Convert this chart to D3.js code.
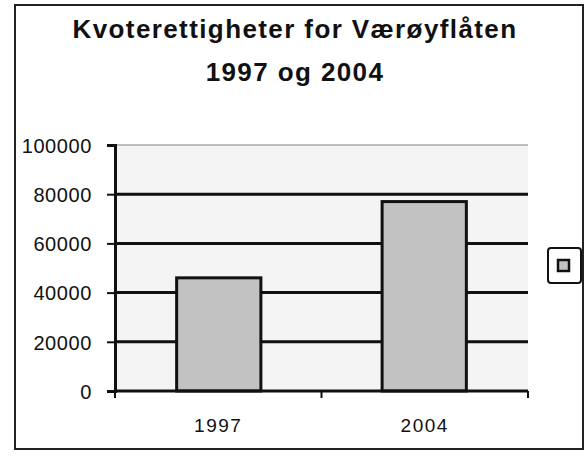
<!DOCTYPE html>
<html>
<head>
<meta charset="utf-8">
<script src="https://cdn.jsdelivr.net/npm/d3@7"></script>
<style>
  body { margin: 0; background: #fff; }
  text { font-family: "Liberation Sans", Arial, sans-serif; fill: #111; }
</style>
</head>
<body>
<svg class="chart" width="586" height="459"></svg>
<script>
const categories = ['1997', '2004'];
const values = [46000, 77000];
const yTicks = [0, 20000, 40000, 60000, 80000, 100000];
const titleLines = ['Kvoterettigheter for Værøyflåten', '1997 og 2004'];

const plotLeft = 115;
const plotRight = 528;
const plotTop = 145;
const plotBottom = 391;

const x = d3.scaleBand()
    .domain(categories)
    .range([plotLeft, plotRight])
    .paddingInner(0.59)
    .paddingOuter(0.3);

const y = d3.scaleLinear()
    .domain([0, 100000])
    .range([plotBottom, plotTop]);

const svg = d3.select('.chart');

// outer frame
svg.append('rect')
    .attr('x', 15).attr('y', 5)
    .attr('width', 568).attr('height', 444)
    .attr('fill', 'none')
    .attr('stroke', '#222')
    .attr('stroke-width', 2);

// title
svg.append('g')
    .selectAll('text')
    .data(titleLines)
    .enter().append('text')
    .attr('x', 295)
    .attr('y', (d, i) => 38 + i * 43)
    .attr('text-anchor', 'middle')
    .attr('font-size', 26)
    .attr('letter-spacing', 1.4)
    .attr('font-weight', 'bold')
    .text(d => d);

// plot background
svg.append('rect')
    .attr('x', plotLeft).attr('y', plotTop)
    .attr('width', plotRight - plotLeft).attr('height', plotBottom - plotTop)
    .attr('fill', '#f4f4f4');

// top line (100000) faint
svg.append('line')
    .attr('x1', plotLeft).attr('x2', plotRight)
    .attr('y1', y(100000)).attr('y2', y(100000))
    .attr('stroke', '#aaa')
    .attr('stroke-width', 1.5);

// gridlines
svg.append('g')
    .selectAll('line')
    .data(yTicks.filter(d => d > 0 && d < 100000))
    .enter().append('line')
    .attr('x1', plotLeft).attr('x2', plotRight)
    .attr('y1', d => y(d)).attr('y2', d => y(d))
    .attr('stroke', '#111')
    .attr('stroke-width', 3);

// bars
svg.append('g')
    .selectAll('rect')
    .data(values)
    .enter().append('rect')
    .attr('x', (d, i) => x(categories[i]))
    .attr('y', d => y(d))
    .attr('width', x.bandwidth())
    .attr('height', d => plotBottom - y(d))
    .attr('fill', '#c2c2c2')
    .attr('stroke', '#111')
    .attr('stroke-width', 3);

// y axis
const yAxis = d3.axisLeft(y)
    .tickValues(yTicks)
    .tickFormat(d3.format('d'))
    .tickSize(8)
    .tickPadding(15);

const gy = svg.append('g')
    .attr('transform', `translate(${plotLeft},0)`)
    .call(yAxis);
gy.select('.domain').attr('stroke', '#111').attr('stroke-width', 3);
gy.selectAll('.tick line').attr('stroke', '#111').attr('stroke-width', 2);
gy.selectAll('.tick text')
    .attr('font-size', 20)
    .attr('letter-spacing', 0.6)
    .attr('font-family', '"Liberation Sans", Arial, sans-serif')
    .attr('fill', '#111')
    .attr('dy', '0.36em');

// x axis
const xEdges = d3.scaleLinear().domain([0, categories.length]).range([plotLeft, plotRight]);
const gx = svg.append('g');
gx.append('line')
    .attr('x1', plotLeft).attr('x2', plotRight)
    .attr('y1', plotBottom).attr('y2', plotBottom)
    .attr('stroke', '#111').attr('stroke-width', 3);
gx.selectAll('.xtick')
    .data(d3.range(categories.length + 1))
    .enter().append('line')
    .attr('class', 'xtick')
    .attr('x1', d => xEdges(d)).attr('x2', d => xEdges(d))
    .attr('y1', plotBottom).attr('y2', plotBottom + 7)
    .attr('stroke', '#111').attr('stroke-width', 2);
gx.selectAll('text')
    .data(categories)
    .enter().append('text')
    .attr('x', d => xEdges(categories.indexOf(d) + 0.5))
    .attr('y', 432)
    .attr('text-anchor', 'middle')
    .attr('font-size', 19)
    .attr('letter-spacing', 1.5)
    .text(d => d);

// legend box (single, unlabeled key)
const legend = svg.append('g');
legend.append('rect')
    .attr('x', 548).attr('y', 248)
    .attr('width', 33).attr('height', 35)
    .attr('rx', 3)
    .attr('fill', '#fff')
    .attr('stroke', '#111')
    .attr('stroke-width', 2);
legend.append('rect')
    .attr('x', 558).attr('y', 260)
    .attr('width', 11).attr('height', 11)
    .attr('fill', '#c2c2c2')
    .attr('stroke', '#111')
    .attr('stroke-width', 2.5);
</script>
</body>
</html>
